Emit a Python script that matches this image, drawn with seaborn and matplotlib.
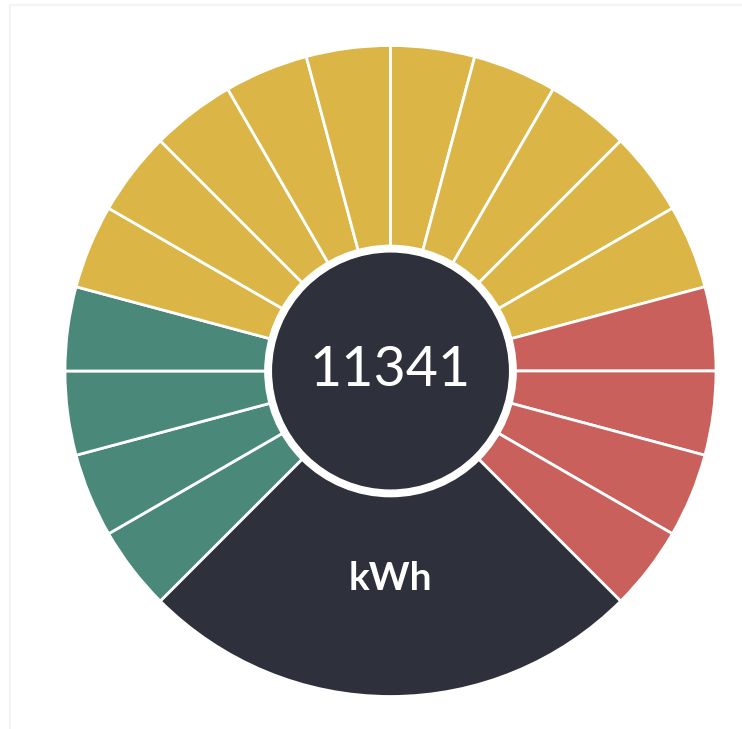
"""
Gauge style donut chart showing a meter reading (kWh).
"""

import matplotlib.pyplot as plt
import seaborn as sns
from matplotlib.patches import Circle, Rectangle

# segments going clockwise from the bottom left of the gauge
GREEN_SEGMENTS = [1, 1, 1, 1]
YELLOW_SEGMENTS = [1, 1, 1, 1, 1, 1, 1, 1, 1, 1]
RED_SEGMENTS = [1, 1, 1, 1]
GAP_SEGMENT = [6]  # the dark quarter at the bottom holding the unit

READING = "11341"
UNIT = "kWh"

GREEN = "#4a887a"
YELLOW = "#dbb647"
RED = "#c9605c"
DARK = "#2e313b"


def main():
    sns.set_theme(style="white")
    plt.rcParams["font.family"] = ["Lato", "DejaVu Sans"]

    values = GREEN_SEGMENTS + YELLOW_SEGMENTS + RED_SEGMENTS + GAP_SEGMENT
    colors = ([GREEN] * len(GREEN_SEGMENTS) + [YELLOW] * len(YELLOW_SEGMENTS)
              + [RED] * len(RED_SEGMENTS) + [DARK])

    fig = plt.figure(figsize=(7.42, 7.29), dpi=100)

    # faint frame around the card
    fig.patches.append(Rectangle((10 / 742, -0.01), 1.0, 1 - 5 / 729 + 0.01,
                                 transform=fig.transFigure, fill=False,
                                 edgecolor="#f3f3f3", linewidth=1.5))

    ax = fig.add_axes([65 / 742, 32.5 / 729, 651 / 742, 651 / 729])
    ax.pie(values, colors=colors, startangle=225, counterclock=False,
           radius=1.0, wedgeprops={"edgecolor": "white", "linewidth": 2})

    # white ring and dark centre disc
    ax.add_patch(Circle((0, 0), 0.386, facecolor="white", zorder=3))
    ax.add_patch(Circle((0, 0), 0.366, facecolor=DARK, zorder=4))

    ax.text(0, 0.0, READING, color="white", fontsize=40, ha="center",
            va="center", zorder=5)
    ax.text(0, -0.636, UNIT, color="white", fontsize=28, fontweight="bold",
            ha="center", va="center", zorder=5)

    ax.set_xlim(-1, 1)
    ax.set_ylim(-1, 1)
    ax.set_aspect("equal")
    ax.axis("off")

    fig.savefig("out.png", dpi=100, facecolor="white")


if __name__ == "__main__":
    main()
